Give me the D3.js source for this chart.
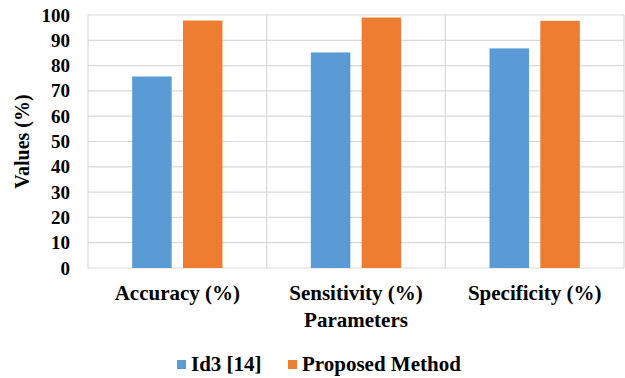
<!DOCTYPE html>
<html>
<head>
<meta charset="utf-8">
<script src="https://cdn.jsdelivr.net/npm/d3@7"></script>
<style>
  html, body { margin: 0; padding: 0; background: #fff; }
  svg { display: block; }
  svg text { font-weight: bold; fill: #000; }
</style>
</head>
<body>
<svg id="chart" width="625" height="378"></svg>
<script>
// Chart data
const categories = ["Accuracy (%)", "Sensitivity (%)", "Specificity (%)"];
const seriesNames = ["Id3 [14]", "Proposed Method"];
const id3Values = [75.7, 85.2, 86.8];
const proposedValues = [97.8, 99.0, 97.7];
const yTicks = [0, 10, 20, 30, 40, 50, 60, 70, 80, 90, 100];
const colors = ["#5B9BD5", "#ED7D31"];

const rows = categories.map((c, i) => ({ cat: c, vals: [id3Values[i], proposedValues[i]] }));

const W = 625, H = 378;
const m = { top: 15, right: 1, bottom: 110, left: 88 };
const iw = W - m.left - m.right, ih = H - m.top - m.bottom;
const FONT = "'Liberation Serif', serif";

const svg = d3.select("#chart").attr("font-family", FONT);
const g = svg.append("g").attr("transform", `translate(${m.left},${m.top})`);

const x0 = d3.scaleBand().domain(categories).range([0, iw]).paddingInner(0).paddingOuter(0);
const x1 = d3.scaleBand().domain(seriesNames).range([0, x0.bandwidth()]).paddingInner(0.222).paddingOuter(0.87);
const y = d3.scaleLinear().domain([0, 100]).range([ih, 0]);

// horizontal gridlines
g.append("g").selectAll("line").data(yTicks).join("line")
  .attr("x1", 0).attr("x2", iw)
  .attr("y1", d => y(d)).attr("y2", d => y(d))
  .attr("stroke", "#d9d9d9").attr("stroke-width", 1.2);

// vertical category separators and frame sides
const edges = categories.map(c => x0(c)).concat([iw]);
g.append("g").selectAll("line").data(edges).join("line")
  .attr("x1", d => d).attr("x2", d => d)
  .attr("y1", 0).attr("y2", ih)
  .attr("stroke", "#d9d9d9").attr("stroke-width", 1.2);

// bars
const grp = g.append("g").selectAll("g").data(rows).join("g")
  .attr("transform", d => `translate(${x0(d.cat)},0)`);
grp.selectAll("rect").data(d => d.vals.map((v, i) => ({ name: seriesNames[i], v, i })))
  .join("rect")
  .attr("x", d => x1(d.name))
  .attr("width", x1.bandwidth())
  .attr("y", d => y(d.v))
  .attr("height", d => ih - y(d.v))
  .attr("fill", d => colors[d.i]);

// y axis labels
const yAxis = d3.axisLeft(y).tickValues(yTicks).tickSize(0).tickPadding(18);
const ya = g.append("g").call(yAxis).attr("font-family", FONT);
ya.select(".domain").remove();
ya.selectAll("text").style("font-size", "19px");

// x axis labels
const xAxis = d3.axisBottom(x0).tickSize(0).tickPadding(17);
const xa = g.append("g").attr("transform", `translate(0,${ih})`).call(xAxis).attr("font-family", FONT);
xa.select(".domain").remove();
xa.selectAll("text").style("font-size", "21px");

// axis titles
svg.append("text")
  .attr("x", m.left + iw / 2).attr("y", 327)
  .attr("text-anchor", "middle").style("font-size", "21px")
  .text("Parameters");

svg.append("text")
  .attr("transform", `translate(29,${m.top + ih / 2}) rotate(-90)`)
  .attr("text-anchor", "middle").style("font-size", "20px")
  .text("Values (%)");

// legend
const legend = svg.append("g").attr("transform", "translate(177,360)");
const items = [{ name: seriesNames[0], dx: 0 }, { name: seriesNames[1], dx: 111 }];
items.forEach((it, i) => {
  const lg = legend.append("g").attr("transform", `translate(${it.dx},0)`);
  lg.append("rect").attr("width", 9).attr("height", 9).attr("fill", colors[i]);
  lg.append("text").attr("x", 14).attr("y", 11).style("font-size", "21px").text(it.name);
});
</script>
</body>
</html>
